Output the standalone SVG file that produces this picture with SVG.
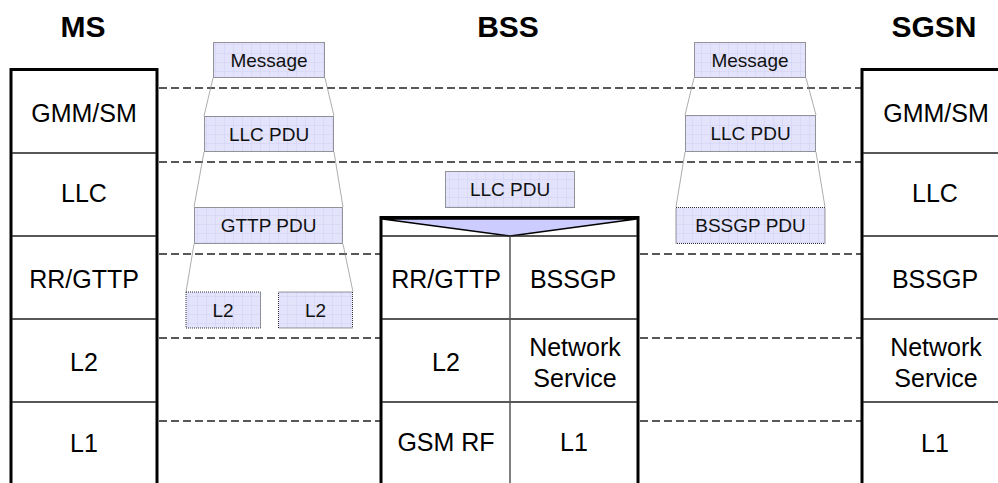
<svg xmlns="http://www.w3.org/2000/svg" width="998" height="483" viewBox="0 0 998 483">
<defs>
<pattern id="grid" width="9" height="9" patternUnits="userSpaceOnUse">
<rect width="9" height="9" fill="#e3e3fb"/>
<path d="M9 0V9M0 9H9" stroke="#cbcbf3" stroke-width="0.8" fill="none"/>
</pattern>
<style>
.title{font-family:"Liberation Sans",Arial,sans-serif;font-size:30px;font-weight:bold;text-anchor:middle;fill:#000}
.lay{font-family:"Liberation Sans",Arial,sans-serif;font-size:25px;text-anchor:middle;fill:#000}
.pdu{font-family:"Liberation Sans",Arial,sans-serif;font-size:19px;text-anchor:middle;fill:#111}
.box{fill:url(#grid);stroke:#333;stroke-width:1;stroke-dasharray:1 1}
.outer{fill:#fff;stroke:#000;stroke-width:3}
.div{stroke:#222;stroke-width:1.4;fill:none}
.dash{stroke:#222;stroke-width:1.5;stroke-dasharray:8 4;fill:none}
.trap{stroke:#8a8a8a;stroke-width:0.7;fill:none}
</style>
</defs>
<rect width="998" height="483" fill="#fff"/>

<g id="connectors">
<path class="dash" d="M159 88H861M159 162H861M159 254H380M159 338H380M159 421H380M640 254H861M640 338H861M640 421H861"/>
<path class="trap" d="M213 78L204 116M325 78L334 116M204 152L194 207M334 152L343 207M194 244L186 292M343 244L353 292"/>
<path class="trap" d="M694 78L685 115M806 78L816 115M685 152L676 207M816 152L825 207"/>
</g>

<g id="ms">
<text class="title" x="83" y="37">MS</text>
<rect class="outer" x="11" y="69.5" width="146" height="430"/>
<path class="div" d="M12 153H156M12 236H156M12 319H156M12 402H156"/>
<text class="lay" x="84" y="121.7">GMM/SM</text>
<text class="lay" x="84" y="202.3">LLC</text>
<text class="lay" x="84" y="288.3">RR/GTTP</text>
<text class="lay" x="84" y="370.7">L2</text>
<text class="lay" x="84" y="452">L1</text>
</g>

<g id="bss">
<text class="title" x="508" y="36.5">BSS</text>
<rect class="outer" x="381" y="217.5" width="257" height="300"/>
<path d="M382.5 219L510 236L636.5 219Z" fill="#ccccff" stroke="#000" stroke-width="1.5" stroke-linejoin="round"/>
<path class="div" d="M382 236H637M382 319H637M382 402H637"/>
<path d="M510 236V483" stroke="#555" stroke-width="1.5"/>
<text class="lay" x="446" y="288.3">RR/GTTP</text>
<text class="lay" x="573" y="288.3">BSSGP</text>
<text class="lay" x="446" y="370.5">L2</text>
<text class="lay" x="575" y="355.7">Network</text>
<text class="lay" x="575" y="386.7">Service</text>
<text class="lay" x="446" y="451">GSM RF</text>
<text class="lay" x="574" y="451">L1</text>
</g>

<g id="sgsn">
<text class="title" x="934" y="37">SGSN</text>
<rect class="outer" x="862" y="69.5" width="146" height="430"/>
<path class="div" d="M863 153H1008M863 236H1008M863 319H1008M863 402H1008"/>
<text class="lay" x="936" y="121.7">GMM/SM</text>
<text class="lay" x="935" y="202.3">LLC</text>
<text class="lay" x="935" y="288.3">BSSGP</text>
<text class="lay" x="936" y="355.7">Network</text>
<text class="lay" x="936" y="386.7">Service</text>
<text class="lay" x="935" y="451.7">L1</text>
</g>

<g id="ms-message"><rect class="box" x="213.5" y="42.5" width="111" height="35"/><text class="pdu" x="269" y="67">Message</text></g>
<g id="ms-llcpdu"><rect class="box" x="204.5" y="116.5" width="129" height="35"/><text class="pdu" x="269" y="140.5">LLC PDU</text></g>
<g id="ms-gttppdu"><rect class="box" x="194.5" y="207.5" width="148" height="36"/><text class="pdu" x="268.5" y="232">GTTP PDU</text></g>
<g id="ms-l2a"><rect class="box" x="186" y="292" width="74.5" height="36"/><text class="pdu" x="223" y="316.5">L2</text></g>
<g id="ms-l2b"><rect class="box" x="278.5" y="292" width="74" height="36"/><text class="pdu" x="315.5" y="316.5">L2</text></g>
<g id="bss-llcpdu"><rect class="box" x="445.5" y="171.5" width="129" height="36"/><text class="pdu" x="510" y="196">LLC PDU</text></g>
<g id="sgsn-message"><rect class="box" x="694.5" y="42.5" width="111" height="35"/><text class="pdu" x="750" y="67">Message</text></g>
<g id="sgsn-llcpdu"><rect class="box" x="685.5" y="115.5" width="130" height="36"/><text class="pdu" x="750.5" y="140">LLC PDU</text></g>
<g id="sgsn-bssgppdu"><rect class="box" x="676" y="207.5" width="149" height="36"/><text class="pdu" x="750.5" y="232">BSSGP PDU</text></g>
</svg>
